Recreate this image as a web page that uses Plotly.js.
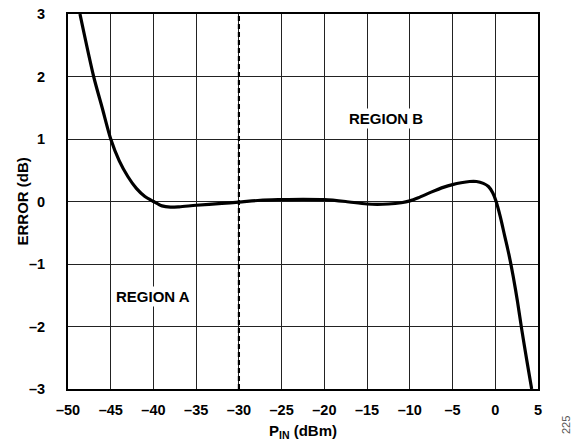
<!DOCTYPE html>
<html>
<head>
<meta charset="utf-8">
<script src="https://cdn.plot.ly/plotly-3.0.1.min.js"></script>
<style>html,body{margin:0;padding:0;background:#fff;}#chart{width:579px;height:445px;}</style>
</head>
<body>
<div id="chart"></div>
<script>
const pinDbm = [-48.6, -47, -46, -45, -44, -43, -42, -41, -40, -39, -38, -37, -35, -32, -30, -27.5, -25, -22.5, -20, -17.5, -15, -12.5, -11, -10, -9, -7.5, -6, -5, -4, -3, -2.2, -1.4, -0.8, -0.3, 0.1, 0.6, 1.1, 1.6, 2.1, 2.6, 3.1, 3.7, 4.26];
const errorDb = [3, 2, 1.5, 1.0, 0.65, 0.4, 0.21, 0.08, 0.0, -0.07, -0.09, -0.085, -0.06, -0.03, -0.01, 0.02, 0.03, 0.035, 0.03, 0.0, -0.04, -0.04, -0.02, 0.01, 0.06, 0.15, 0.23, 0.27, 0.3, 0.32, 0.32, 0.29, 0.24, 0.14, 0.0, -0.25, -0.55, -0.85, -1.2, -1.6, -2.05, -2.55, -3];
const boundaryX = [-30, -30];
const boundaryY = [-3, 3];
const xTickVals = [-50, -45, -40, -35, -30, -25, -20, -15, -10, -5, 0, 5];
const xTickText = ['–50', '–45', '–40', '–35', '–30', '–25', '–20', '–15', '–10', '–5', '0', '5'];
const yTickVals = [-3, -2, -1, 0, 1, 2, 3];
const yTickText = ['–3', '–2', '–1', '0', '1', '2', '3'];
const regionLabels = ['REGION A', 'REGION B'];
const regionX = [-40, -12.8];
const regionY = [-1.52, 1.33];

const FAM = 'Liberation Sans, Arial, sans-serif';
const tickFont = {family: FAM, size: 14.5, color: '#000', weight: 'bold'};
const labelFont = {family: FAM, size: 15, color: '#000', weight: 'bold'};

const traces = [
  {x: pinDbm, y: errorDb, mode: 'lines', line: {color: '#000', width: 3.2, shape: 'spline', smoothing: 0.8}, hoverinfo: 'none'},
  {x: boundaryX, y: boundaryY, mode: 'lines', line: {color: '#000', width: 2.2, dash: '5px,3px'}, hoverinfo: 'none'}
];

const annotations = regionLabels.map((t, i) => ({
  x: regionX[i], y: regionY[i], xref: 'x', yref: 'y', text: t, showarrow: false,
  font: labelFont, bgcolor: '#fff', borderpad: 1
}));
// axis titles
annotations.push({xref: 'paper', yref: 'paper', x: (22 - 68) / 470, y: 0.5, text: 'ERROR (dB)', textangle: -90,
  showarrow: false, xanchor: 'center', yanchor: 'middle', font: labelFont});
annotations.push({xref: 'paper', yref: 'paper', x: (303 - 68) / 470, y: (445 - 56 - 431) / 375, text: 'P<sub>IN</sub> (dBm)',
  showarrow: false, xanchor: 'center', yanchor: 'middle', font: labelFont});
// figure id
annotations.push({xref: 'paper', yref: 'paper', x: (566 - 68) / 470, y: (445 - 56 - 425) / 375, text: '225', textangle: -90,
  showarrow: false, xanchor: 'center', yanchor: 'middle', font: {family: FAM, size: 11, color: '#555'}});

const layout = {
  width: 579, height: 445,
  margin: {l: 68, r: 41, t: 14, b: 56},
  paper_bgcolor: '#fff', plot_bgcolor: '#fff',
  showlegend: false,
  xaxis: {
    range: [-50, 5], tickvals: xTickVals, ticktext: xTickText,
    showgrid: true, gridcolor: '#222', gridwidth: 1,
    zeroline: false, showline: true, linecolor: '#000', linewidth: 2, mirror: true,
    ticks: '', ticklabelstandoff: 7, tickfont: tickFont
  },
  yaxis: {
    range: [-3, 3], tickvals: yTickVals, ticktext: yTickText,
    showgrid: true, gridcolor: '#222', gridwidth: 1,
    zeroline: false, showline: true, linecolor: '#000', linewidth: 2, mirror: true,
    ticks: '', ticklabelstandoff: 18, tickfont: tickFont
  },
  annotations: annotations
};

Plotly.newPlot('chart', traces, layout, {displayModeBar: false, staticPlot: true});
</script>
</body>
</html>
